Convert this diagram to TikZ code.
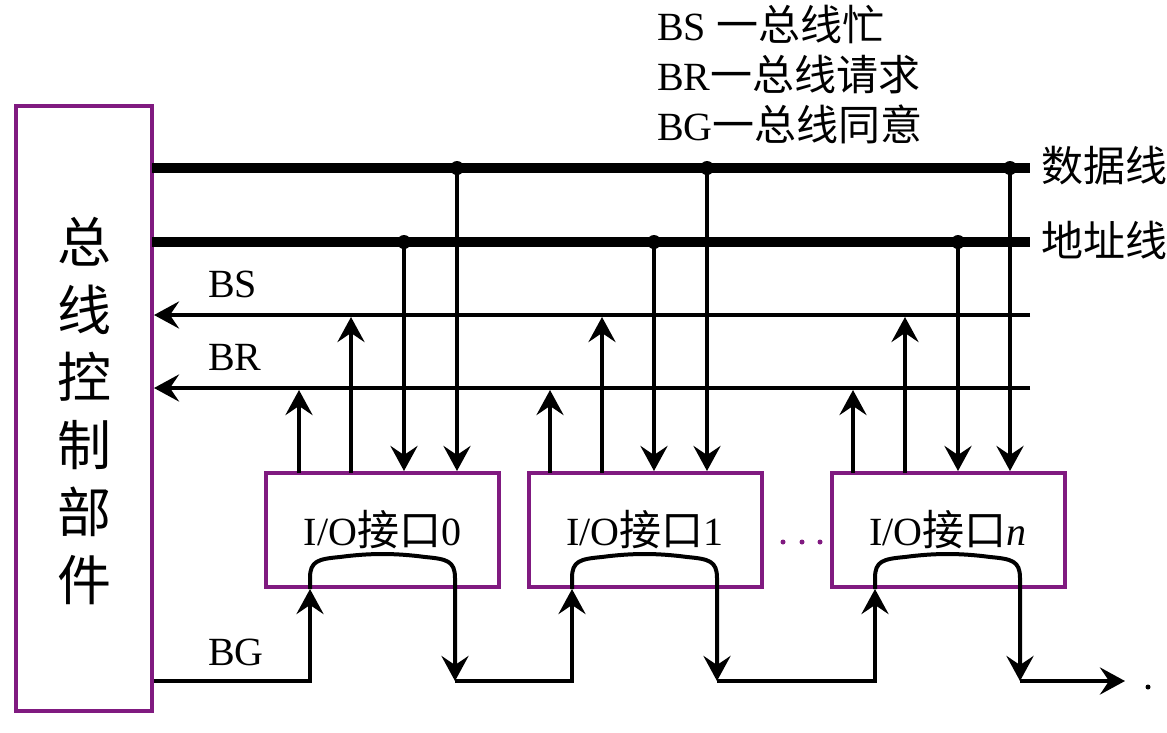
\documentclass[tikz,border=0pt]{standalone}
\usepackage{fontspec}
\setmainfont{Liberation Serif}
\newfontfamily\cjk{Noto Sans CJK SC}
\usetikzlibrary{arrows.meta}
\definecolor{boxpurple}{RGB}{128,26,128}
\newcommand{\zh}[1]{{\cjk\fontsize{42}{50}\selectfont #1}}
\begin{document}
\begin{tikzpicture}[x=1pt,y=-1pt,
  bus/.style={line width=10pt},
  sig/.style={line width=4pt},
  arr/.style={sig,-{Stealth[length=25pt,width=27pt,inset=9pt]}},
  frame/.style={draw=boxpurple,line width=4pt,outer sep=0pt,inner sep=0pt,fill=white},
  jdot/.style={circle,fill=black,inner sep=0pt,minimum size=14pt},
  pdot/.style={circle,fill=boxpurple,inner sep=0pt,minimum size=5pt},
  lbl/.style={font=\fontsize{40}{48}\selectfont,inner sep=0pt}
]
\useasboundingbox[fill=white] (0,0) rectangle (1167,732);

% bus control unit
\node[frame,minimum width=136pt,minimum height=605pt] (ctrl) at (84,408.5) {};
\node[align=center,inner sep=0pt,font=\cjk\fontsize{54}{67.6}\selectfont] (ctrltext) at (84,411) {总\\线\\控\\制\\部\\件};

% I/O interfaces
\node[frame,minimum width=233pt,minimum height=114pt,lbl] (io0) at (382.5,530) {I/O\zh{接口}0};
\node[frame,minimum width=233pt,minimum height=114pt,lbl] (io1) at (645,530) {I/O\zh{接口}1};
\node[frame,minimum width=233pt,minimum height=114pt,lbl] (ion) at (948,530) {I/O\zh{接口}\textit{n}};

% legend
\node[lbl,anchor=base west] (lgs) at (657,40) {BS \zh{一总线忙}};
\node[lbl,anchor=base west] (lgr) at (657,90) {BR\zh{一总线请求}};
\node[lbl,anchor=base west] (lgg) at (657,140) {BG\zh{一总线同意}};

% bus ends
\coordinate (dL) at (152,168);  \coordinate (dR) at (1030,168);
\coordinate (aL) at (152,242);  \coordinate (aR) at (1030,242);
\coordinate (sL) at (154,315);  \coordinate (sR) at (1030,315);
\coordinate (rL) at (154,388);  \coordinate (rR) at (1030,388);

\draw[bus] (dL) -- (dR);
\draw[bus] (aL) -- (aR);
\draw[arr] (sR) -- (sL);
\draw[arr] (rR) -- (rL);

\node[lbl,anchor=west] (dlab) at (1041,166) {\zh{数据线}};
\node[lbl,anchor=west] (alab) at (1041,240) {\zh{地址线}};
\node[lbl,anchor=base west] (bslab) at (208,297) {BS};
\node[lbl,anchor=base west] (brlab) at (208,370) {BR};
\node[lbl,anchor=base west] (bglab) at (208,665) {BG};

% junctions
\node[jdot] (jd0) at (457,168) {};
\node[jdot] (jd1) at (707,168) {};
\node[jdot] (jdn) at (1010,168) {};
\node[jdot] (ja0) at (404,242) {};
\node[jdot] (ja1) at (654,242) {};
\node[jdot] (jan) at (958,242) {};

% down arrows (address, data)
\foreach \j/\b in {jd0/io0,jd1/io1,jdn/ion,ja0/io0,ja1/io1,jan/ion}
  \draw[arr] (\j.center) -- ([yshift=2pt]\b.north -| \j);

% up arrows (BR, BS)
\foreach \x/\b in {299/io0,550/io1,853/ion}
  \draw[arr] (\b.north -| \x,0) -- (\x,390);
\foreach \x/\b in {351/io0,602/io1,905/ion}
  \draw[arr] (\b.north -| \x,0) -- (\x,317);

% BG daisy chain
\coordinate (g0) at (154,681);
\draw[arr] (g0) -| (310,589);
\draw[arr] (310,589) -- (310,578) .. controls (310,561) and (318,559) .. (340,557)
  .. controls (370,553) and (395,553) .. (425,557) .. controls (447,559) and (455,561) .. (455,578) -- (455,681);
\draw[arr] (455,681) -| (572,589);
\draw[arr] (572,589) -- (572,578) .. controls (572,561) and (580,559) .. (602,557)
  .. controls (632,553) and (657,553) .. (687,557) .. controls (709,559) and (717,561) .. (717,578) -- (717,681);
\draw[arr] (717,681) -| (875,589);
\draw[arr] (875,589) -- (875,578) .. controls (875,561) and (883,559) .. (905,557)
  .. controls (935,553) and (960,553) .. (990,557) .. controls (1012,559) and (1020,561) .. (1020,578) -- (1020,681);
\coordinate (gend) at (1125,681);
\draw[arr] (1020,681) -- (gend);

% ellipsis dots
\node[pdot] (e1) at (783,542) {};
\node[pdot] (e2) at (802,542) {};
\node[pdot] (e3) at (820,542) {};
\node[circle,fill=black,inner sep=0pt,minimum size=5pt] (edot) at (1148,687) {};
\end{tikzpicture}
\end{document}
